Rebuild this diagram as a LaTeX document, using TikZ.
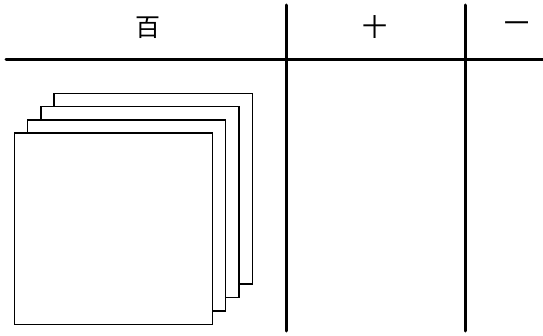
\documentclass[tikz,border=0pt]{standalone}
\usepackage{fontspec}
\newfontfamily\cjk{Noto Sans CJK SC}
\begin{document}
\begin{tikzpicture}[x=1pt,y=-1pt,
  rule/.style={line width=3pt},
  card/.style={draw,line width=1.8pt,fill=white},
  head/.style={font=\cjk\fontsize{25}{25}\selectfont,inner sep=0pt}]
\useasboundingbox (0,0) rectangle (543,336);
% table rules
\draw[rule,line cap=round] (6,60) -- (543,60);
\draw[rule,line cap=round] (286,5) -- (286,331);
\draw[rule,line cap=round] (465,5) -- (465,331);
% headings
\node[head] (h100) at (148,28) {百};
\node[head] (h10) at (375,27) {十};
\node[head] (h1) at (517,27) {一};
% stacked cards
\draw[card] (54,93.5) rectangle (252.5,284);
\draw[card] (41,106.5) rectangle (239,297.5);
\draw[card] (27.5,120) rectangle (225.5,311);
\draw[card] (14.5,133) rectangle (212.5,324.5);
\end{tikzpicture}
\end{document}
